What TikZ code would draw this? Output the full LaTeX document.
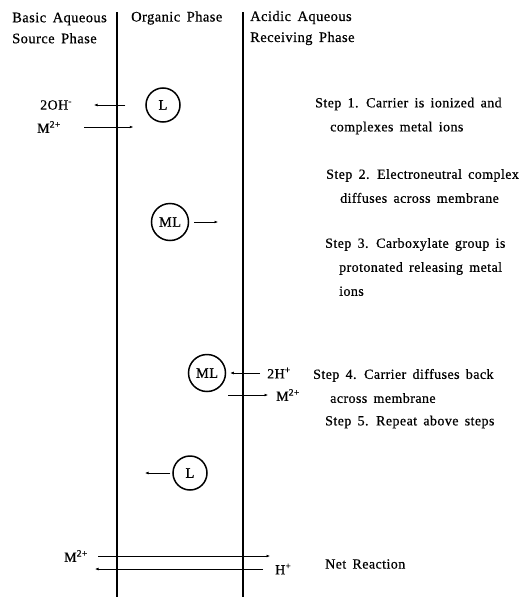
\documentclass[tikz,border=0pt]{standalone}
\usepackage{fontspec}
\setmainfont{Liberation Serif}[LetterSpace=3, WordSpace=1.6, FakeBold=0.6]
\usepackage{tikz}
\usetikzlibrary{arrows.meta, positioning}

\begin{document}
\begin{tikzpicture}[
   x=1pt, y=-1pt, >={Latex[length=3.5pt,width=2.8pt]},
   txt/.style={font=\fontsize{14.5}{21}\selectfont, inner sep=0pt, anchor=west, align=left},
   stepbox/.style={txt, font=\fontsize{14}{24}\selectfont},
   ion/.style={txt, font=\fontsize{14}{16}\selectfont},
   carrier/.style={draw, circle, line width=1.5pt, inner sep=0pt,
               font=\fontsize{14.5}{16}\selectfont},
   wall/.style={line width=1.1pt},
   flux/.style={->, line width=0.6pt}]
  \useasboundingbox (0,0) rectangle (532,597);
  % membranes
  \coordinate (lwtop) at (117,12);  \coordinate (lwbot) at (117,597);
  \coordinate (rwtop) at (243,12);  \coordinate (rwbot) at (243,597);
  \draw[wall] (lwtop) -- (lwbot);
  \draw[wall] (rwtop) -- (rwbot);
  % phase headings
  \node[txt] (source) at (12,28) {Basic Aqueous\\Source Phase};
  \node[txt] (organic) at (131,18) {Organic Phase};
  \node[txt] (receive) at (250,28) {Acidic Aqueous\\Receiving Phase};
  % carriers
  \node[carrier, minimum size=34pt] (L1) at (163,105) {L};
  \node[carrier, minimum size=37pt] (ML1) at (170,222) {ML};
  \node[carrier, minimum size=37pt] (ML2) at (207,373) {ML};
  \node[carrier, minimum size=34pt] (L2) at (190,473) {L};
  % ions
  \node[ion] (oh) at (40,105) {2OH\textsuperscript{-}};
  \node[ion] (m1) at (37,127) {M\textsuperscript{2+}};
  \node[ion] (h2) at (267,373) {2H\textsuperscript{+}};
  \node[ion] (m2) at (276,395) {M\textsuperscript{2+}};
  \node[ion] (m3) at (64,556) {M\textsuperscript{2+}};
  \node[ion] (hp) at (275,569) {H\textsuperscript{+}};
  % ion and carrier transport
  \coordinate (ohtip) at (94,105);
  \coordinate (m1tail) at (84,127);
  \coordinate (ml1out) at (218,222);
  \coordinate (m2in) at (228,395);
  \coordinate (l2out) at (145,473);
  \coordinate (net1) at (270,556);
  \coordinate (net2) at (95,569);
  \draw[flux, shorten <=20pt] (L1) -- (ohtip);
  \draw[flux, shorten >=12pt] (m1tail) -- (m1tail -| L1.west);
  \draw[flux, shorten <=5pt] (ML1) -- (ml1out);
  \draw[flux, shorten <=7pt, shorten >=4pt] (h2.west) -- (h2.west -| ML2.east);
  \draw[flux, shorten >=8pt] (m2in) -- (m2.west);
  \draw[flux, shorten <=2pt] (L2) -- (l2out);
  \draw[flux, shorten <=10pt] (m3.east) -- (net1);
  \draw[flux, shorten <=12pt] (hp.west) -- (net2);
  % step descriptions
  \node[stepbox] (step1) at (315,116) {Step 1. Carrier is ionized and\\
     \hspace*{15pt}complexes metal ions};
  \node[stepbox] (step2) at (326,186) {Step 2. Electroneutral complex\\
     \hspace*{14pt}diffuses across membrane};
  \node[stepbox] (step3) at (325,267) {Step 3. Carboxylate group is\\
     \hspace*{14pt}protonated releasing metal\\ \hspace*{14pt}ions};
  \node[stepbox] (step4) at (313,386) {Step 4. Carrier diffuses back\\
     \hspace*{17pt}across membrane};
  \node[stepbox] (step5) at (325,422) {Step 5. Repeat above steps};
  \node[stepbox] (net) at (325,564) {Net Reaction};
\end{tikzpicture}
\end{document}
